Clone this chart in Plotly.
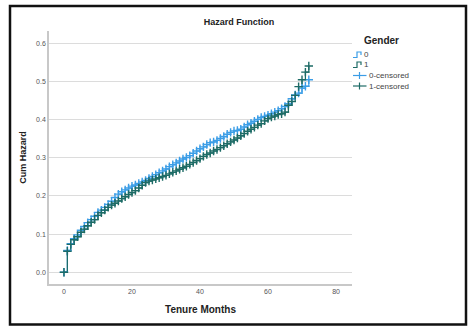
import plotly.graph_objects as go

months = list(range(0, 73))

cum_hazard_0 = [
    0.000, 0.057, 0.075, 0.088, 0.098, 0.110, 0.120, 0.130, 0.138, 0.147,
    0.157, 0.163, 0.170, 0.178, 0.186, 0.196, 0.205, 0.211, 0.216, 0.221,
    0.226, 0.229, 0.233, 0.237, 0.241, 0.246, 0.251, 0.256, 0.261, 0.266,
    0.271, 0.277, 0.282, 0.287, 0.292, 0.297, 0.301, 0.306, 0.312, 0.318,
    0.324, 0.329, 0.335, 0.340, 0.342, 0.346, 0.351, 0.356, 0.362, 0.367,
    0.371, 0.372, 0.375, 0.381, 0.387, 0.391, 0.396, 0.401, 0.406, 0.409,
    0.412, 0.416, 0.420, 0.424, 0.429, 0.435, 0.442, 0.455, 0.465, 0.470,
    0.483, 0.488, 0.505,
]

cum_hazard_1 = [
    0.000, 0.055, 0.073, 0.085, 0.093, 0.105, 0.113, 0.122, 0.131, 0.138,
    0.149, 0.156, 0.163, 0.170, 0.176, 0.181, 0.187, 0.193, 0.198, 0.204,
    0.209, 0.214, 0.221, 0.228, 0.235, 0.239, 0.242, 0.245, 0.248, 0.251,
    0.254, 0.258, 0.262, 0.266, 0.270, 0.274, 0.278, 0.283, 0.288, 0.293,
    0.298, 0.304, 0.309, 0.313, 0.318, 0.322, 0.327, 0.332, 0.337, 0.342,
    0.347, 0.352, 0.358, 0.364, 0.370, 0.375, 0.380, 0.386, 0.390, 0.397,
    0.403, 0.407, 0.410, 0.414, 0.416, 0.420, 0.438, 0.448, 0.464, 0.487,
    0.505, 0.525, 0.541,
]

x_ticks = [0, 20, 40, 60, 80]
y_ticks = [0.0, 0.1, 0.2, 0.3, 0.4, 0.5, 0.6]
legend_labels = ["0", "1", "0-censored", "1-censored"]

color0 = "#3b9de6"
color1 = "#1d6b66"

fig = go.Figure()
fig.add_trace(go.Scatter(x=months, y=cum_hazard_0, mode="lines", name="0",
                         line=dict(color=color0, width=1.2, shape="hv")))
fig.add_trace(go.Scatter(x=months, y=cum_hazard_1, mode="lines", name="1",
                         line=dict(color=color1, width=1.2, shape="hv")))
fig.add_trace(go.Scatter(x=months, y=cum_hazard_0, mode="markers", name="0-censored",
                         marker=dict(symbol="cross-thin", size=6,
                                     line=dict(color=color0, width=1.4))))
fig.add_trace(go.Scatter(x=months, y=cum_hazard_1, mode="markers", name="1-censored",
                         marker=dict(symbol="cross-thin", size=6,
                                     line=dict(color=color1, width=1.4))))

W, H = 472, 326
L, R, T, B = 49, 120, 31, 42
pw, ph = W - L - R, H - T - B
def px(x):
    return (x - L) / pw
def py(y):
    return (H - B - y) / ph

# outer frame
fig.add_shape(type="rect", xref="paper", yref="paper",
              x0=px(10), x1=px(466), y0=py(324.5), y1=py(6),
              line=dict(color="#111111", width=2.5), fillcolor="rgba(0,0,0,0)")

# custom compact legend
annotations = [dict(text="<b>Gender</b>", xref="paper", yref="paper",
                    x=px(362), y=py(40.5), xanchor="left", yanchor="middle",
                    showarrow=False, font=dict(size=10, color="#222222"))]
legend_colors = [color0, color1, color0, color1]
legend_y = [54.5, 64.5, 75.5, 86]
for i, (lab, col, yy) in enumerate(zip(legend_labels, legend_colors, legend_y)):
    if i < 2:
        path = (f"M {px(353)},{py(yy+3)} L {px(357)},{py(yy+3)} L {px(357)},{py(yy-2.5)} "
                f"L {px(361)},{py(yy-2.5)} L {px(361)},{py(yy+0.5)}")
        fig.add_shape(type="path", xref="paper", yref="paper", path=path,
                      line=dict(color=col, width=1.2))
        tx = 361.5
    else:
        fig.add_shape(type="line", xref="paper", yref="paper",
                      x0=px(353), x1=px(366.5), y0=py(yy), y1=py(yy),
                      line=dict(color=col, width=1.2))
        fig.add_shape(type="line", xref="paper", yref="paper",
                      x0=px(359.5), x1=px(359.5), y0=py(yy - 3.5), y1=py(yy + 3.5),
                      line=dict(color=col, width=1.2))
        tx = 366.5
    annotations.append(dict(text=lab, xref="paper", yref="paper",
                            x=px(tx), y=py(yy), xanchor="left", yanchor="middle",
                            showarrow=False, font=dict(size=8, color="#444444")))

fig.update_layout(
    width=W, height=H,
    margin=dict(l=L, r=R, t=T, b=B),
    paper_bgcolor="white", plot_bgcolor="white",
    font=dict(family="Liberation Sans, Arial", color="#222222"),
    title=dict(text="<b>Hazard Function</b>", xref="paper", x=px(239), xanchor="center",
               y=(H - 22) / H, yanchor="middle",
               font=dict(size=9, color="#222222")),
    showlegend=False,
    annotations=annotations,
)
fig.update_xaxes(range=[-4.4, 84.7], tickvals=x_ticks, ticktext=[str(v) for v in x_ticks],
                 showgrid=False, zeroline=False, showline=True, linecolor="#c8c8c8",
                 linewidth=1.5, ticks="", tickfont=dict(size=7, color="#555555"),
                 title=dict(text="<b>Tenure Months</b>", font=dict(size=10, color="#222222"),
                            standoff=12))
fig.update_yaxes(range=[-0.031, 0.633], tickvals=y_ticks,
                 ticktext=[f"{v:.1f}" for v in y_ticks],
                 showgrid=True, gridcolor="#dcdcdc", gridwidth=1.2, zeroline=False,
                 showline=True, linecolor="#c8c8c8", linewidth=1.5, ticks="",
                 tickfont=dict(size=7, color="#555555"),
                 title=dict(text="<b>Cum Hazard</b>", font=dict(size=9, color="#222222"),
                            standoff=8))

fig.write_html("out.html")
